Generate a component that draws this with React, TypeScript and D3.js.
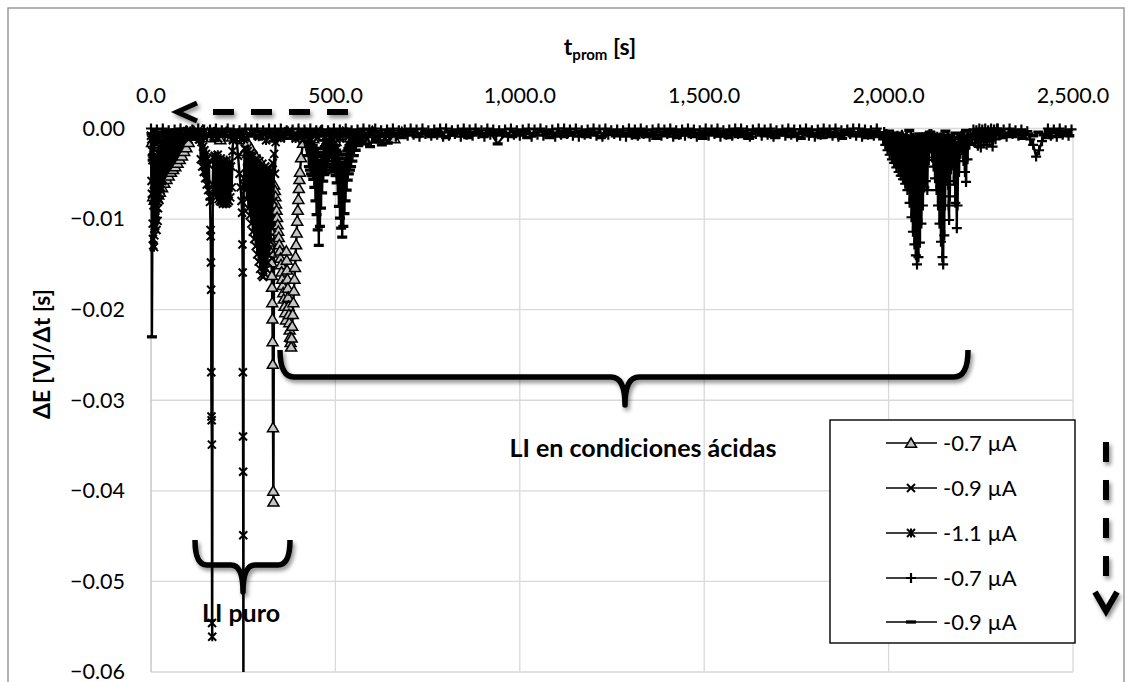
import React from 'react';
import * as d3 from 'd3';

type P = [number, number];
// sampled run: start time [s], sampling step [s], readings in units of -1e-4 V/s
const run = (t0: number, dt: number, vals: number[]): P[] => vals.map((v, i) => [t0 + i * dt, -v * 1e-4] as P);

const xTicks = [0, 500, 1000, 1500, 2000, 2500];
const yTicks = [0, -0.01, -0.02, -0.03, -0.04, -0.05, -0.06];
const seriesNames = ['-0.7 µA', '-0.9 µA', '-1.1 µA', '-0.7 µA', '-0.9 µA'];
const seriesMarkers = ['tri', 'x', 'star', 'plus', 'dash'];

// -0.7 µA (LI puro)
const s1: P[] = [
  [3, -0.0015], [6, -0.0075], [8, -0.0025], [10, -0.0079], [12, -0.002], [15, -0.0076], [17, -0.0018], [20, -0.0073], [22, -0.0016],
  [24, -0.007], [27, -0.0014], [30, -0.0065], [33, -0.0012], [36, -0.006], [39, -0.0011], [42, -0.0056], [45, -0.001], [48, -0.0052],
  [51, -0.0009], [54, -0.0048], [57, -0.0008], [60, -0.0045], [63, -0.0007], [66, -0.0042], [69, -0.0006], [72, -0.0038], [75, -0.0006],
  [78, -0.0034], [81, -0.0005], [84, -0.003], [87, -0.0005], [90, -0.0025], [93, -0.0004], [96, -0.0021], [99, -0.0004], [102, -0.0015],
  [106, -0.0004], [110, -0.0008], [116, -0.0003],
  ...run(124, 16, [8, 2, 10, 5, 12, 4, 9, 6]),
  [252, -0.0012], [256, -0.0025], [262, -0.0015], [266, -0.0035], [272, -0.0022], [278, -0.0045], [284, -0.003], [290, -0.0052],
  [296, -0.0036], [302, -0.0058], [307, -0.0046], [312, -0.0068], [316, -0.006], [320, -0.0085], [322, -0.0098], [323.5, -0.0112],
  [325, -0.0125], [326, -0.0137], [327, -0.0148], [327.6, -0.0162], [328.2, -0.0175], [328.8, -0.0192], [329.3, -0.021],
  [329.8, -0.0235], [330.2, -0.026], [330.8, -0.033], [331.5, -0.040], [332, -0.0412], [334, -0.0062], [336, -0.0068],
  [337.5, -0.0075], [339, -0.0083], [340.5, -0.009], [342, -0.0098], [343.5, -0.0106], [345, -0.0113], [346.5, -0.012],
  [348, -0.0128], [349.5, -0.0135], [351, -0.0143], [352.5, -0.015], [354, -0.0158], [355.5, -0.0166], [357, -0.0173],
  [358.5, -0.0181], [360, -0.0188], [362, -0.0196], [364, -0.0203], [366, -0.0211], [367, -0.0135], [368, -0.0145],
  [369, -0.0156], [370, -0.0166], [371, -0.0176], [372, -0.0186], [373, -0.0196], [374, -0.0205], [375, -0.0214],
  [376, -0.0222], [377, -0.023], [378.5, -0.0236], [380, -0.0241], [381.5, -0.0231], [383, -0.0218], [384.5, -0.0205],
  [386, -0.0192], [387.5, -0.0179], [389, -0.0166], [390.5, -0.0153], [392, -0.0141], [393.5, -0.0128], [395, -0.0115],
  [396.5, -0.0102], [398, -0.009], [399.5, -0.0078], [401, -0.0066], [402.5, -0.0056], [404, -0.0048], [407, -0.0032], [412, -0.0016],
  ...run(420, 20, [5, 11, 3, 9, 14, 4, 10, 6, 12, 3, 8, 5, 11, 4]),
];

// -0.9 µA (LI puro)
const s2: P[] = [
  [0, -0.0008], [1.5, -0.0058], [3, -0.0025], [4.5, -0.0105], [6, -0.0129], [7.5, -0.0062], [9, -0.0118], [10.5, -0.0042],
  [12, -0.0098], [13.5, -0.0075], [15, -0.0112], [17, -0.0035], [19, -0.0088], [21, -0.0052], [23, -0.0079], [25, -0.0021],
  [27, -0.0065], [29, -0.0038], [31, -0.0056], [33, -0.0015], [35, -0.0046], [37, -0.0026], [39, -0.0039], [42, -0.0009],
  [45, -0.0028], [48, -0.0012], [52, -0.0006],
  ...run(62, 20, [10, 4, 12, 6, 9, 3, 11, 5, 13]),
  [232, -0.0012], [236, -0.003], [240, -0.005], [243, -0.0065], [245.5, -0.008], [247, -0.0093], [248, -0.0128], [248.6, -0.0159],
  [249.1, -0.0269], [249.5, -0.034], [249.8, -0.0379], [250.1, -0.0449], [250.6, -0.075], [251.3, -0.0062],
  [252, -0.0055], [254, -0.0022], [256, -0.0068], [258, -0.0028], [260, -0.0078], [262, -0.0025], [264, -0.0088], [266, -0.0031],
  [268, -0.0096], [270, -0.0027], [272, -0.0105], [274, -0.0035], [276, -0.0114], [278, -0.003], [280, -0.0122], [282, -0.0038],
  [284, -0.013], [286, -0.0033], [288, -0.0139], [290, -0.0042], [292, -0.0147], [294, -0.0036], [296, -0.0155], [298, -0.0045],
  [300, -0.0162], [302, -0.0039], [304, -0.0164], [306, -0.0048], [308, -0.016], [310, -0.0042], [312, -0.0155], [314, -0.005],
  [316, -0.0148], [318, -0.0045], [320, -0.014], [322, -0.0052], [324, -0.0125], [326, -0.0046], [328, -0.011], [330, -0.0038],
  [332, -0.008], [334, -0.0028], [336, -0.005], [338, -0.0015], [342, -0.0008],
  ...run(352, 20, [11, 4, 9, 13, 5, 10, 3, 12, 6, 9, 4, 11]),
];

// -1.1 µA (LI puro)
const s3: P[] = [
  [0.8, -0.0012], [2.2, -0.0072], [3.8, -0.0035], [5.2, -0.0122], [6.8, -0.0085], [8.2, -0.0131], [9.8, -0.0055], [11.2, -0.0108],
  [12.8, -0.0032], [14.2, -0.0095], [16, -0.0048], [18, -0.0102], [20, -0.0028], [22, -0.0072], [24, -0.0045], [26, -0.0068],
  [28, -0.0018], [30, -0.0058], [32, -0.0032], [34, -0.0049], [36, -0.0012], [38, -0.0036], [41, -0.0019], [44, -0.0031],
  [47, -0.0008], [51, -0.0018], [56, -0.0005],
  ...run(66, 16, [5, 10, 3, 8, 12]),
  [133, -0.0012], [135, -0.0034], [137, -0.0015], [139, -0.0042], [141, -0.002], [143, -0.0048], [145, -0.0024], [147, -0.0055],
  [149, -0.0028], [151, -0.0062], [153, -0.0033], [155, -0.0068], [157, -0.004], [159, -0.0075], [160, -0.0081], [161.5, -0.0112],
  [162, -0.0119], [162.5, -0.0148], [163, -0.0178], [163.5, -0.0269], [164, -0.0318], [164.5, -0.0322], [165, -0.0349],
  [165.5, -0.0546], [166, -0.0561], [167.5, -0.0062],
  [169, -0.0032], [171, -0.0068], [173, -0.003], [175, -0.0072], [177, -0.0035], [179, -0.0075], [181, -0.0029], [183, -0.0078],
  [185, -0.0038], [187, -0.008], [189, -0.0033], [191, -0.0081], [193, -0.004], [195, -0.0083], [197, -0.0036], [199, -0.0082],
  [201, -0.0042], [203, -0.0083], [205, -0.0035], [207, -0.0082], [209, -0.0045], [211, -0.008], [213, -0.0038], [215, -0.0076],
  [217, -0.0042], [219, -0.0065], [221, -0.0025], [223, -0.0012],
  ...run(232, 20, [6, 12, 4, 9, 13, 5, 10, 3, 11, 7, 13, 4, 9, 6, 11, 4, 8, 12, 5]),
];

// -0.7 µA (LI en condiciones ácidas)
const s4: P[] = [
  ...run(0, 8, [
    0, 7, 1, 9, 0, 6, 2, 8, 1, 7, 0, 9, 2, 6, 1, 8, 0, 7, 1, 9,
    1, 8, 0, 6, 2, 9, 0, 7, 1, 8, 2, 6, 0, 9, 1, 7, 0, 8, 2, 6,
    0, 9, 1, 7, 0, 8, 2, 6, 1, 9, 0, 7, 1, 8, 0, 6, 2, 9, 1, 7,
    2, 6, 0, 8, 1, 9, 0, 7, 2, 8, 1, 6, 0, 9, 1, 7, 0, 8, 2, 9,
    1, 7, 0, 9, 2, 6, 1, 8, 0, 7, 1, 9, 0, 6, 2, 8, 1, 7, 0, 9,
    0, 8, 2, 6, 1, 9, 0, 7, 1, 8, 0, 6, 2, 9, 0, 7, 1, 8, 2, 6,
    1, 9, 0, 7, 2, 8, 1, 6, 0, 9, 1, 7, 0, 8, 2, 6, 1, 9, 0, 7,
    0, 6, 1, 8, 0, 9, 2, 7, 1, 6, 0, 8, 1, 9, 0, 7, 2, 6, 1, 8,
    2, 9, 0, 7, 1, 8, 0, 6, 2, 9, 1, 7, 0, 8, 1, 6, 0, 9, 2, 7,
    1, 8, 0, 6, 1, 9, 2, 7, 0, 8, 1, 6, 0, 9, 2, 7, 1, 8, 0, 6,
    0, 7, 2, 9, 1, 6, 0, 8, 1, 7, 0, 9, 2, 6, 1, 8, 0, 7, 1, 9,
    1, 6, 0, 8, 2, 9, 1, 7, 0, 6, 1, 8, 0, 9, 2, 7, 1, 6, 0, 8,
    0, 9, 1, 7, 2, 8, 0, 6]),
  [1985, -0.0012], [1988, -0.0004], [1991, -0.0018], [1994, -0.0006], [1997, -0.0024], [2000, -0.0008], [2003, -0.0029],
  [2006, -0.001], [2009, -0.0034], [2012, -0.0007], [2015, -0.0038], [2018, -0.0009], [2021, -0.0043], [2024, -0.0008],
  [2027, -0.0048], [2030, -0.001], [2033, -0.0052], [2036, -0.0007], [2039, -0.0056], [2042, -0.0011], [2045, -0.0061],
  [2048, -0.0008], [2051, -0.0068], [2054, -0.0012], [2057, -0.0082], [2060, -0.0009], [2062, -0.0098], [2064, -0.0013],
  [2066, -0.0114], [2068, -0.001], [2070, -0.0128], [2072, -0.0014], [2074, -0.014], [2076, -0.0011], [2077, -0.015],
  [2079, -0.0015], [2081, -0.0142], [2083, -0.0012], [2085, -0.0126], [2087, -0.0014], [2089, -0.0105], [2091, -0.001],
  [2093, -0.0085], [2095, -0.0013], [2097, -0.0065], [2099, -0.0009], [2101, -0.0058], [2103, -0.0012], [2105, -0.0068],
  [2107, -0.0008], [2109, -0.0035], [2111, -0.0006],
  [2112, -0.0008], [2114, -0.0022], [2116, -0.0006], [2118, -0.0032], [2120, -0.001], [2122, -0.0042], [2124, -0.0008],
  [2126, -0.0055], [2128, -0.0012], [2130, -0.0068], [2132, -0.0009], [2134, -0.0085], [2136, -0.0013], [2138, -0.0105],
  [2140, -0.001], [2142, -0.0125], [2144, -0.0014], [2146, -0.0142], [2148, -0.015], [2150, -0.0012], [2151, -0.0118],
  [2152, -0.0015], [2153, -0.0085], [2155, -0.0011], [2156, -0.0055], [2158, -0.0012],
  [2159, -0.0035], [2160, -0.0012], [2161, -0.0062], [2162, -0.0015], [2163, -0.0085], [2164, -0.0101], [2165, -0.0018],
  [2166, -0.0075], [2168, -0.0014], [2169, -0.0045], [2171, -0.001], [2173, -0.0038], [2175, -0.0012], [2177, -0.0058],
  [2179, -0.0016], [2181, -0.0082], [2183, -0.0019], [2185, -0.011], [2186, -0.0022], [2187, -0.0085], [2189, -0.0015],
  [2191, -0.0048], [2193, -0.001], [2195, -0.0028], [2197, -0.0008], [2199, -0.0022], [2201, -0.0009], [2203, -0.0036],
  [2205, -0.0012], [2207, -0.0048], [2209, -0.0014], [2210, -0.0059], [2212, -0.0012], [2214, -0.0034], [2216, -0.0008],
  [2219, -0.0018], [2222, -0.0006],
  ...run(2226, 4, [12, 1, 16, 2, 19, 0, 21, 1, 15, 0, 18, 2, 14, 0, 20, 1, 12, 0]),
  ...run(2296, 8, [0, 7, 1, 9, 0, 6, 2, 8, 1, 7, 3, 12, 18, 31, 24, 14, 6, 0, 8, 1, 9, 0, 7, 2, 8, 1]),
];

// -0.9 µA (LI en condiciones ácidas)
const s5: P[] = [
  [1.5, -0.0006], [2.5, -0.023], [4.5, -0.0035], [8, -0.0012],
  ...run(12, 20, [9, 4, 12, 6, 10, 3, 11, 7, 13, 5, 9, 4, 12, 6, 10, 4, 14, 8, 11, 5, 9]),
  [425, -0.003], [426.5, -0.0014], [428, -0.0042], [429.5, -0.0018], [431, -0.0046], [432.5, -0.0016], [434, -0.005],
  [435.5, -0.0021], [437, -0.0052], [438.5, -0.0019], [440, -0.0056], [441.5, -0.0024], [443, -0.0065], [444.5, -0.0022],
  [446, -0.008], [447.5, -0.0027], [449, -0.0095], [450.5, -0.0031], [452, -0.0112], [453.5, -0.0036], [455, -0.0129],
  [456.5, -0.0042], [458, -0.0108], [459.5, -0.0035], [461, -0.0088], [462.5, -0.003], [464, -0.0071], [465.5, -0.0026],
  [467, -0.0058], [468.5, -0.0022], [470, -0.0051], [471.5, -0.002], [473, -0.0049], [474.5, -0.0018], [476, -0.0046],
  [477.5, -0.0016], [479, -0.0042], [480.5, -0.0015], [482, -0.0036], [483.5, -0.0012], [485, -0.0028],
  [487, -0.0012], [488.5, -0.0032], [490, -0.0015], [491.5, -0.004], [493, -0.0018], [494.5, -0.0045], [496, -0.0021],
  [497.5, -0.0048], [499, -0.0019], [500.5, -0.0052], [502, -0.0024], [503.5, -0.006], [505, -0.0026], [506.5, -0.0072],
  [508, -0.0029], [509.5, -0.0086], [511, -0.0033], [512.5, -0.0099], [514, -0.0037], [515.5, -0.011], [517, -0.0041],
  [518.5, -0.012], [520, -0.0045], [521.5, -0.0108], [523, -0.0038], [524.5, -0.0094], [526, -0.0033], [527.5, -0.008],
  [529, -0.0029], [530.5, -0.0068], [532, -0.0025], [533.5, -0.0057], [535, -0.0022], [536.5, -0.005], [538, -0.0019],
  [539.5, -0.0046], [541, -0.0017], [542.5, -0.0042], [544, -0.0015], [546, -0.0036], [548, -0.0013], [550, -0.003],
  [552, -0.0011], [555, -0.0024], [558, -0.0009],
  ...run(562, 8, [19, 8, 17, 6, 20, 9, 15, 7, 18, 8, 16, 6]),
  ...run(660, 20, [5, 10, 3, 9, 6, 9, 4, 10, 7, 3, 10, 5, 9, 4, 17, 6, 9, 4, 10, 6, 3, 10, 5, 9, 7, 4, 9, 6, 10, 3, 8, 5]),
  ...run(1300, 14, [
    6, 10, 3, 9, 5, 11, 4, 8, 2, 10, 7, 3, 9, 5, 11, 6, 2, 8, 4, 10,
    3, 9, 6, 11, 5, 2, 8, 4, 10, 7, 3, 9, 5, 11, 2, 8, 6, 10, 4, 9,
    5, 11, 3, 8, 6, 2, 10, 4, 9, 7, 3, 11, 5, 8, 2, 10, 6, 9, 4, 11,
    7, 3, 8, 5, 10, 2, 9, 6, 11, 4, 8, 3, 10, 5, 9, 2, 11, 6, 8, 4,
    7, 10, 3, 9, 5, 8]),
];

const allSeries = [s1, s2, s3, s4, s5];

const W = 1132, H = 682;
const PL = 151, PR = 1073, PT = 128.5, PB = 672;
const FONT = "Lato, 'Open Sans', sans-serif";

function Marker({ kind, x, y }: { kind: string; x: number; y: number }) {
  const t = `translate(${x.toFixed(2)},${y.toFixed(2)})`;
  if (kind === 'tri') return <path transform={t} d="M0,-5L5.5,4.3L-5.5,4.3Z" fill="#c4c4c4" stroke="#000" strokeWidth={1.5} />;
  if (kind === 'x') return <path transform={t} d="M-4,-4L4,4M-4,4L4,-4" stroke="#000" strokeWidth={2} fill="none" />;
  if (kind === 'star') return <path transform={t} d="M-4,-4L4,4M-4,4L4,-4M0,-4.6L0,4.6" stroke="#000" strokeWidth={2} fill="none" />;
  if (kind === 'plus') return <path transform={t} d="M-5,0L5,0M0,-5L0,5" stroke="#000" strokeWidth={2.2} fill="none" />;
  return <path transform={t} d="M-5,0L5,0" stroke="#000" strokeWidth={3.3} fill="none" />;
}

function brace(x1: number, x2: number, xm: number, yTop: number, yH: number, yTip: number, r: number) {
  return `M${x1},${yTop} Q${x1},${yH} ${x1 + r},${yH} L${xm - r},${yH} Q${xm},${yH} ${xm},${yTip} Q${xm},${yH} ${xm + r},${yH} L${x2 - r},${yH} Q${x2},${yH} ${x2},${yTop}`;
}

export default function App() {
  const x = d3.scaleLinear().domain([0, 2500]).range([PL, PR]);
  const y = d3.scaleLinear().domain([-0.06, 0]).range([PB, PT]);
  const line = d3.line<P>().x(d => x(d[0])).y(d => y(d[1]));
  const fmtX = d3.format(',.1f');
  const fmtY = (v: number) => (v === 0 ? '0.00' : d3.format('.2f')(v));
  const order = [0, 1, 2, 3, 4];
  const legY = [443, 488, 533, 578, 622];

  return (
    <svg width={W} height={H} style={{ position: 'absolute', left: 0, top: 0, background: '#fff' }} fontFamily={FONT}>
      <defs>
        <clipPath id="plot"><rect x={PL - 12} y={PT - 30} width={PR - PL + 24} height={PB - PT + 30} /></clipPath>
        <filter id="sh" x="-20%" y="-30%" width="140%" height="170%">
          <feDropShadow dx={2} dy={3} stdDeviation={2} floodColor="#000" floodOpacity={0.45} />
        </filter>
      </defs>
      <rect x={0} y={0} width={W} height={H} fill="#fff" />
      <rect x={8} y={8} width={1116} height={700} fill="none" stroke="#9a9a9a" strokeWidth={1.5} />

      {yTicks.map(v => (
        <line key={'gy' + v} x1={PL} x2={PR} y1={y(v)} y2={y(v)} stroke="#d9d9d9" strokeWidth={1.3} />
      ))}
      {xTicks.map(t => (
        <line key={'gx' + t} x1={x(t)} x2={x(t)} y1={PT} y2={PB} stroke={t === 0 ? '#bfbfbf' : '#d9d9d9'} strokeWidth={1.3} />
      ))}

      {xTicks.map(t => (
        <text key={'tx' + t} x={x(t)} y={103} textAnchor="middle" fontSize={21.5} fill="#000">{fmtX(t)}</text>
      ))}
      {yTicks.map(v => (
        <text key={'ty' + v} x={125} y={y(v) + 7.3} textAnchor="end" fontSize={21.5} fill="#000">{fmtY(v)}</text>
      ))}

      <text x={600} y={55} textAnchor="middle" fontSize={23} fontWeight="bold">
        t<tspan fontSize={15} dy={5}>prom</tspan><tspan dy={-5}> [s]</tspan>
      </text>
      <text transform="translate(50,354) rotate(-90)" textAnchor="middle" fontSize={23} fontWeight="bold">ΔE [V]/Δt [s]</text>

      <g clipPath="url(#plot)">
        {order.map(i => (
          <g key={'s' + i}>
            <path d={line(allSeries[i]) || ''} fill="none" stroke="#000" strokeWidth={2.4} strokeLinejoin="round" />
            {allSeries[i].filter(d => d[1] >= -0.0605).map((d, j) => (
              <Marker key={j} kind={seriesMarkers[i]} x={x(d[0])} y={y(d[1])} />
            ))}
          </g>
        ))}
      </g>

      <g filter="url(#sh)" fill="none" stroke="#000" strokeLinecap="butt">
        <path d={brace(280, 968, 625, 350, 377, 405, 14)} strokeWidth={5.5} strokeLinejoin="round" />
        <path d={brace(195, 290, 243, 540, 565, 592, 12)} strokeWidth={5.5} strokeLinejoin="round" />
        <line x1={348} x2={212} y1={112} y2={112} strokeWidth={6} strokeDasharray="21 17" />
        <polyline points="197,103 177,112 197,121" strokeWidth={5} strokeLinejoin="miter" />
        <line x1={1106} x2={1106} y1={442} y2={578} strokeWidth={6} strokeDasharray="20 18" />
        <polyline points="1095,592 1106,611 1117,592" strokeWidth={6} strokeLinejoin="miter" />
      </g>
      <text x={643} y={457} textAnchor="middle" fontSize={25} fontWeight="bold">LI en condiciones ácidas</text>
      <text x={241} y={622} textAnchor="middle" fontSize={25} fontWeight="bold">LI puro</text>

      <rect x={830} y={420} width={245} height={223} fill="#fff" stroke="#000" strokeWidth={1.4} />
      {seriesNames.map((n, i) => (
        <g key={'lg' + i}>
          <line x1={886} x2={937} y1={legY[i]} y2={legY[i]} stroke="#000" strokeWidth={1.4} />
          <Marker kind={seriesMarkers[i]} x={911} y={legY[i]} />
          <text x={943} y={legY[i] + 8} fontSize={22}>{n}</text>
        </g>
      ))}
    </svg>
  );
}
